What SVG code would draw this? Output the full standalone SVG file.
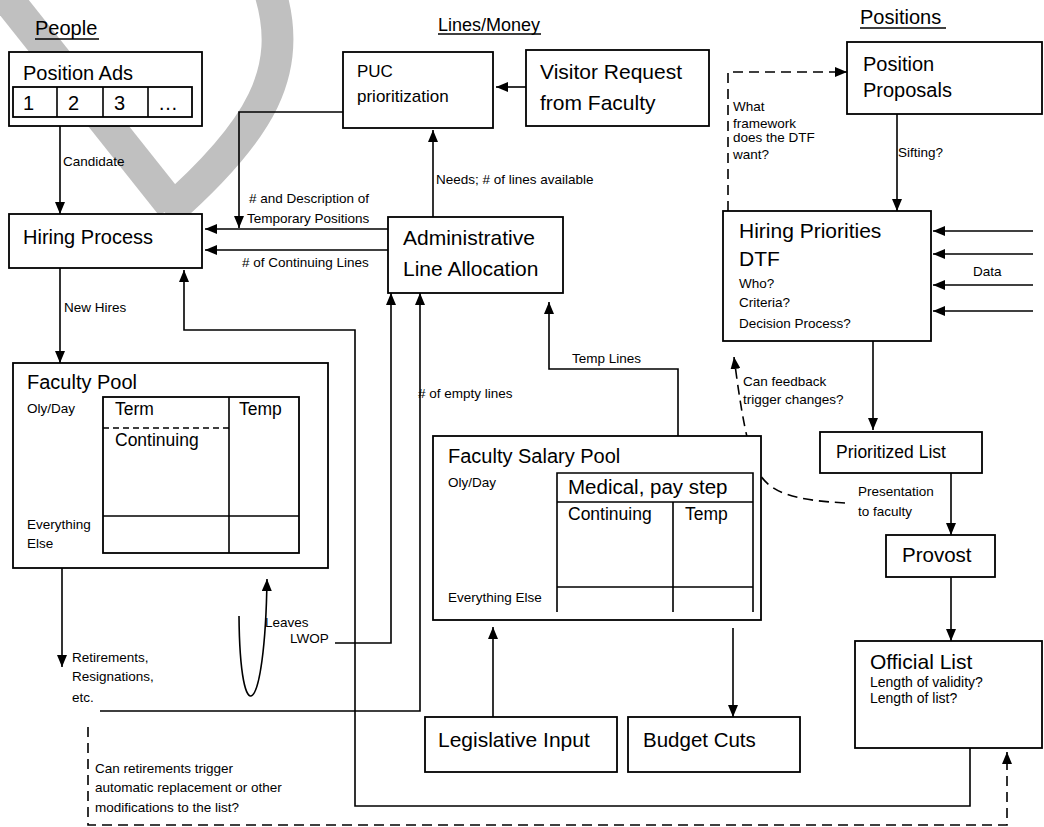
<svg xmlns="http://www.w3.org/2000/svg" width="1044" height="827" viewBox="0 0 1044 827">
<defs>
<style>
text{font-family:"Liberation Sans",Arial,sans-serif;fill:#000}
.box{fill:#fff;stroke:#000;stroke-width:1.8}
.ln{fill:none;stroke:#000;stroke-width:1.6}
.arr{fill:none;stroke:#000;stroke-width:1.6;marker-end:url(#ah)}
.dash{fill:none;stroke:#000;stroke-width:1.6;stroke-dasharray:10 6}
.dasharr{fill:none;stroke:#000;stroke-width:1.6;stroke-dasharray:10 6;marker-end:url(#ah)}
.wm{fill:none;stroke:#c0c0c0;stroke-width:32}
.t21{font-size:21px}
.t20{font-size:20px}
.t18{font-size:18px}
.t17{font-size:17.5px}
.s{font-size:13.5px}
</style>
<marker id="ah" viewBox="0 0 12 10" refX="12" refY="5" markerWidth="12" markerHeight="10" orient="auto" markerUnits="userSpaceOnUse"><path d="M0,0L12,5L0,10z" fill="#000"/></marker>
</defs>
<rect x="0" y="0" width="1044" height="827" fill="#fff"/>
<g id="watermark">
<path class="wm" d="M2,-8 L172,206"/>
<path class="wm" d="M270,-8 C294,70 262,130 166,214"/>
</g>
<g id="headers">
<text class="t20" x="35" y="35">People</text>
<line class="ln" x1="35" y1="39" x2="99" y2="39"/>
<text class="t18" x="438" y="31">Lines/Money</text>
<line class="ln" x1="438" y1="34" x2="541" y2="34"/>
<text class="t20" x="860" y="24">Positions</text>
<line class="ln" x1="860" y1="28" x2="946" y2="28"/>
</g>
<g id="connectors">
<path class="arr" d="M60,124 V214"/>
<path class="arr" d="M60,268 V363"/>
<path class="arr" d="M62,568 V667"/>
<path class="arr" d="M239,616 C240,735 265,720 267,579"/>
<path class="arr" d="M335,643 H391 V293"/>
<path class="arr" d="M100,711 H420 V293"/>
<path class="arr" d="M970,748 V806 H355 V330 H184 V270"/>
<path class="arr" d="M388,229 H205"/>
<path class="arr" d="M388,250 H205"/>
<path class="arr" d="M343,112 H239 V228"/>
<path class="arr" d="M433,217 V130"/>
<path class="arr" d="M526,87 H496"/>
<path class="arr" d="M678,436 V369 H549 V302"/>
<path class="arr" d="M493,717 V627"/>
<path class="arr" d="M733,628 V717"/>
<path class="dasharr" d="M728,211 V72 H847"/>
<path class="arr" d="M897,114 V211"/>
<path class="arr" d="M1033,231 H933"/>
<path class="arr" d="M1033,254 H933"/>
<path class="arr" d="M1033,285 H933"/>
<path class="arr" d="M1033,311 H933"/>
<path class="arr" d="M873,341 V430"/>
<path class="arr" d="M951,473 V535"/>
<path class="arr" d="M951,577 V641"/>
<path class="dasharr" d="M845,503 C795,500 766,494 755,465 C748,445 742,420 734,357"/>
<path class="dasharr" d="M88,727 V825 H1007 V752"/>
</g>
<g id="connector-labels">
<text class="s" x="63" y="166">Candidate</text>
<text class="s" x="64" y="312">New Hires</text>
<text class="s" x="249" y="203"># and Description of</text>
<text class="s" x="247" y="223">Temporary Positions</text>
<text class="s" x="242" y="267"># of Continuing Lines</text>
<text class="s" x="436" y="184">Needs; # of lines available</text>
<text class="s" x="418" y="398"># of empty lines</text>
<text class="s" x="572" y="363">Temp Lines</text>
<text class="s" x="265" y="627">Leaves</text>
<text class="s" x="290" y="643">LWOP</text>
<text class="s" x="72" y="662">Retirements,</text>
<text class="s" x="72" y="681">Resignations,</text>
<text class="s" x="72" y="702">etc.</text>
<text class="s" x="95" y="773">Can retirements trigger</text>
<text class="s" x="95" y="792">automatic replacement or other</text>
<text class="s" x="95" y="812">modifications to the list?</text>
<text class="s" x="733" y="111">What</text>
<text class="s" x="733" y="128">framework</text>
<text class="s" x="733" y="142">does the DTF</text>
<text class="s" x="733" y="159">want?</text>
<text class="s" x="898" y="157">Sifting?</text>
<text class="s" x="973" y="276">Data</text>
<text class="s" x="743" y="386">Can feedback</text>
<text class="s" x="743" y="404">trigger changes?</text>
<text class="s" x="858" y="496">Presentation</text>
<text class="s" x="858" y="516">to faculty</text>
</g>
<g id="position-ads">
<rect class="box" x="9" y="52" width="193" height="74"/>
<text class="t20" x="23" y="80">Position Ads</text>
<rect class="box" x="13" y="87" width="179" height="30"/>
<line class="ln" x1="57" y1="87" x2="57" y2="117"/>
<line class="ln" x1="103" y1="87" x2="103" y2="117"/>
<line class="ln" x1="148" y1="87" x2="148" y2="117"/>
<text class="t20" x="23" y="110">1</text>
<text class="t20" x="68" y="110">2</text>
<text class="t20" x="114" y="110">3</text>
<text class="t20" x="158" y="110">…</text>
</g>
<g id="hiring-process">
<rect class="box" x="9" y="214" width="193" height="54"/>
<text class="t20" x="23" y="244">Hiring Process</text>
</g>
<g id="puc">
<rect class="box" x="343" y="52" width="150" height="76"/>
<text x="357" y="77" style="font-size:17px">PUC</text>
<text x="357" y="102" style="font-size:17px">prioritization</text>
</g>
<g id="visitor-request">
<rect class="box" x="526" y="50" width="183" height="76"/>
<text class="t21" x="540" y="79">Visitor Request</text>
<text class="t21" x="540" y="110">from Faculty</text>
</g>
<g id="admin-line-allocation">
<rect class="box" x="388" y="217" width="175" height="76"/>
<text class="t21" x="403" y="245">Administrative</text>
<text class="t21" x="403" y="276">Line Allocation</text>
</g>
<g id="position-proposals">
<rect class="box" x="847" y="42" width="195" height="72"/>
<text class="t20" x="863" y="71">Position</text>
<text class="t20" x="863" y="97">Proposals</text>
</g>
<g id="hiring-priorities">
<rect class="box" x="723" y="211" width="208" height="130"/>
<text class="t21" x="739" y="238">Hiring Priorities</text>
<text class="t21" x="739" y="266">DTF</text>
<text class="s" x="739" y="288">Who?</text>
<text class="s" x="739" y="307">Criteria?</text>
<text class="s" x="739" y="328">Decision Process?</text>
</g>
<g id="faculty-pool">
<rect class="box" x="13" y="363" width="315" height="205"/>
<text class="t20" x="27" y="389">Faculty Pool</text>
<text class="s" x="27" y="413">Oly/Day</text>
<text class="s" x="27" y="529">Everything</text>
<text class="s" x="27" y="548">Else</text>
<rect class="box" x="103" y="397" width="196" height="156"/>
<line class="ln" x1="229" y1="397" x2="229" y2="553"/>
<line class="ln" x1="103" y1="516" x2="299" y2="516"/>
<line class="ln" x1="103" y1="428" x2="231" y2="428" style="stroke-dasharray:6 4"/>
<text class="t17" x="115" y="415">Term</text>
<text class="t17" x="239" y="415">Temp</text>
<text class="t17" x="115" y="446">Continuing</text>
</g>
<g id="faculty-salary-pool">
<rect class="box" x="433" y="436" width="328" height="184"/>
<text class="t20" x="448" y="463">Faculty Salary Pool</text>
<text class="s" x="448" y="487">Oly/Day</text>
<text class="s" x="448" y="602">Everything Else</text>
<path class="ln" d="M557,612 V473 H753 V612 M557,502 H753 M673,502 V612 M557,587 H753"/>
<text x="568" y="494" style="font-size:20.5px">Medical, pay step</text>
<text class="t17" x="568" y="520">Continuing</text>
<text class="t17" x="685" y="520">Temp</text>
</g>
<g id="legislative-input">
<rect class="box" x="425" y="717" width="192" height="55"/>
<text class="t21" x="438" y="747">Legislative Input</text>
</g>
<g id="budget-cuts">
<rect class="box" x="628" y="717" width="172" height="55"/>
<text x="643" y="747" style="font-size:20.5px">Budget Cuts</text>
</g>
<g id="prioritized-list">
<rect class="box" x="820" y="432" width="162" height="41"/>
<text class="t17" x="836" y="458">Prioritized List</text>
</g>
<g id="provost">
<rect class="box" x="886" y="535" width="109" height="42"/>
<text x="902" y="562" style="font-size:20.5px">Provost</text>
</g>
<g id="official-list">
<rect class="box" x="855" y="641" width="187" height="107"/>
<text class="t21" x="870" y="669">Official List</text>
<text x="870" y="687" style="font-size:14px">Length of validity?</text>
<text x="870" y="703" style="font-size:14px">Length of list?</text>
</g>
</svg>
